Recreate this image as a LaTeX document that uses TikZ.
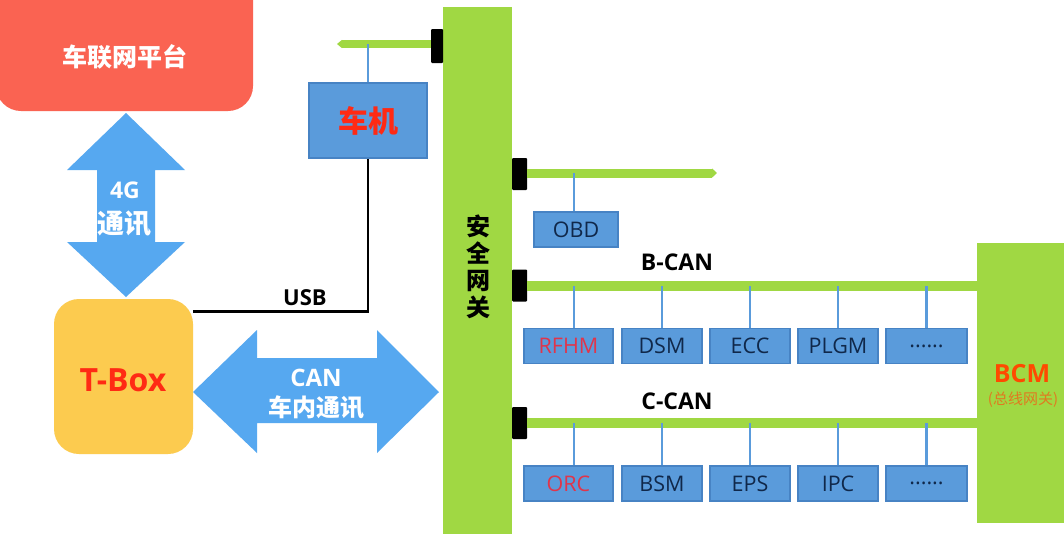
\documentclass[tikz,border=0pt]{standalone}
\usepackage{fontspec}
\setmainfont{Open Sans}
\newfontfamily\cjk{Noto Sans CJK SC}
\usetikzlibrary{arrows.meta}
\definecolor{platred}{HTML}{FA6352}
\definecolor{arrowblue}{HTML}{56A8F0}
\definecolor{tboxyellow}{HTML}{FCCB4F}
\definecolor{ecublue}{HTML}{5A9BDB}
\definecolor{ecuborder}{HTML}{4783C4}
\definecolor{busgreen}{HTML}{A0D843}
\definecolor{navy}{HTML}{10284A}
\definecolor{hotred}{HTML}{FF2A14}
\definecolor{ecured}{HTML}{E0354B}
\definecolor{bcmred}{HTML}{FF4A00}
\definecolor{bcmsub}{HTML}{E07A20}
\begin{document}
\begin{tikzpicture}[x=1pt,y=-1pt,
  ecu/.style={draw=ecuborder, fill=ecublue, line width=1.2pt, minimum height=35pt, inner sep=0pt, font=\fontsize{21.5}{21.5}\selectfont, text=navy},
  bus/.style={draw=busgreen, line width=10pt},
  tap/.style={draw=ecublue, line width=2.8pt},
  port/.style={fill=black, rounded corners=1pt, inner sep=0pt, minimum width=15pt, minimum height=32pt},
  bigarrow/.style={fill=arrowblue},
  whitetxt/.style={text=white, font=\bfseries\fontsize{22}{22}\selectfont, inner sep=0pt},
  buslabel/.style={font=\bfseries\fontsize{23}{23}\selectfont, inner sep=0pt},
]
\useasboundingbox (0,0) rectangle (1064,533);
\fill[white] (0,0) rectangle (1064,533);

% platform
\node[fill=platred, rounded corners=25pt, minimum width=257pt, minimum height=150pt, inner sep=0pt] (plat) at (124.5,36) {};
\node[text=white, font=\cjk\bfseries\fontsize{25}{25}\selectfont, inner sep=0pt] (platlabel) at (125,57) {车联网平台};

% 4G arrow
\fill[bigarrow] (126,113) -- (185,170) -- (155,170) -- (155,242) -- (185,242) -- (126,297) -- (67,242) -- (97,242) -- (97,170) -- (67,170) -- cycle;
\node[whitetxt, font=\bfseries\fontsize{23}{23}\selectfont] (g4) at (125,190) {4G};
\node[whitetxt, font=\cjk\bfseries\fontsize{27}{27}\selectfont] (g4b) at (124,224) {通讯};

% T-Box
\node[fill=tboxyellow, rounded corners=25pt, minimum width=139pt, minimum height=155pt, inner sep=0pt] (tbox) at (123.5,376.5) {};
\node[text=hotred, font=\bfseries\fontsize{32}{32}\selectfont, inner sep=0pt] (tboxlabel) at (123,380) {T-Box};

% CAN arrow
\fill[bigarrow] (193,392) -- (257,330) -- (257,358) -- (377,358) -- (377,330) -- (439,392) -- (377,453) -- (377,423) -- (257,423) -- (257,453) -- cycle;
\node[whitetxt, font=\bfseries\fontsize{24}{24}\selectfont] (can1) at (316,378) {CAN};
\node[whitetxt, font=\cjk\bfseries\fontsize{24}{24}\selectfont] (can2) at (316,407) {车内通讯};

% head unit
\node[draw=ecuborder, fill=ecublue, line width=1.2pt, minimum width=118pt, minimum height=75pt, inner sep=0pt, text=hotred, font=\cjk\bfseries\fontsize{30}{30}\selectfont] (hu) at (368,120.5) {车机};

% gateway
\node[fill=busgreen, minimum width=69pt, minimum height=540pt, inner sep=0pt] (gw) at (477.5,277) {};
\node[font=\cjk\bfseries\fontsize{24}{27}\selectfont, align=center, inner sep=0pt] (gwlabel) at (478,267) {安\\全\\网\\关};

% BCM
\node[fill=busgreen, minimum width=100pt, minimum height=280pt, inner sep=0pt] (bcm) at (1027,383) {};
\node[text=bcmred, font=\bfseries\fontsize{25}{25}\selectfont, inner sep=0pt] (bcmlabel) at (1022,374) {BCM};
\node[text=bcmsub, font=\cjk\fontsize{15}{15}\selectfont, inner sep=0pt] (bcmsublabel) at (1023,400) {(总线网关)};

% ports
\node[port, minimum width=12pt, minimum height=34pt] (ptop) at (437,46) {};
\node[port] (pobd) at (519.5,174) {};
\node[port] (pb) at (519.5,285.5) {};
\node[port] (pc) at (519.5,423) {};

% top bus
\coordinate (topend) at (337,44);
\draw[busgreen, line width=8pt, {Triangle[length=5pt,width=8pt]}-] (topend) -- (ptop.west |- topend);
\draw[tap] (hu.north) -- (hu.north |- topend);

% USB
\draw[black, line width=2.8pt] ([yshift=-13pt]tbox.north east) -| (hu.south);
\node[buslabel, font=\bfseries\fontsize{22}{22}\selectfont] (usb) at (305,298) {USB};

% OBD
\coordinate (obdend) at (717,173);
\draw[busgreen, line width=9pt, -{Triangle[length=5pt,width=9pt]}] (pobd.east |- obdend) -- (obdend);
\node[ecu, minimum width=84pt] (obd) at (576,229.5) {OBD};
\draw[tap] ([xshift=-2pt]obd.north) -- ([xshift=-2pt]obd.north |- obdend);

% B-CAN
\draw[bus] (pb.east) -- (bcm.west |- pb.east);
\node[buslabel] (bcanlabel) at (677,262) {B-CAN};
\node[ecu, minimum width=89pt, text=ecured] (rfhm) at (568.5,346) {RFHM};
\node[ecu, minimum width=80pt] (dsm) at (662,346) {DSM};
\node[ecu, minimum width=80pt] (ecc) at (750,346) {ECC};
\node[ecu, minimum width=80pt] (plgm) at (838,346) {PLGM};
\node[ecu, minimum width=81pt] (bdots) at (926.5,346) {......};
\draw[tap] ([xshift=5.5pt]rfhm.north) -- ([xshift=5.5pt]rfhm.north |- pb.east);
\foreach \n in {dsm,ecc,plgm,bdots} \draw[tap] (\n.north) -- (\n.north |- pb.east);

% C-CAN
\draw[bus] (pc.east) -- (bcm.west |- pc.east);
\node[buslabel] (ccanlabel) at (677,401) {C-CAN};
\node[ecu, minimum width=89pt, text=ecured] (orc) at (568.5,483.5) {ORC};
\node[ecu, minimum width=80pt] (bsm) at (662,483.5) {BSM};
\node[ecu, minimum width=80pt] (eps) at (750,483.5) {EPS};
\node[ecu, minimum width=80pt] (ipc) at (838,483.5) {IPC};
\node[ecu, minimum width=81pt] (cdots) at (926.5,483.5) {......};
\draw[tap] ([xshift=5.5pt]orc.north) -- ([xshift=5.5pt]orc.north |- pc.east);
\foreach \n in {bsm,eps,ipc,cdots} \draw[tap] (\n.north) -- (\n.north |- pc.east);
\end{tikzpicture}
\end{document}
